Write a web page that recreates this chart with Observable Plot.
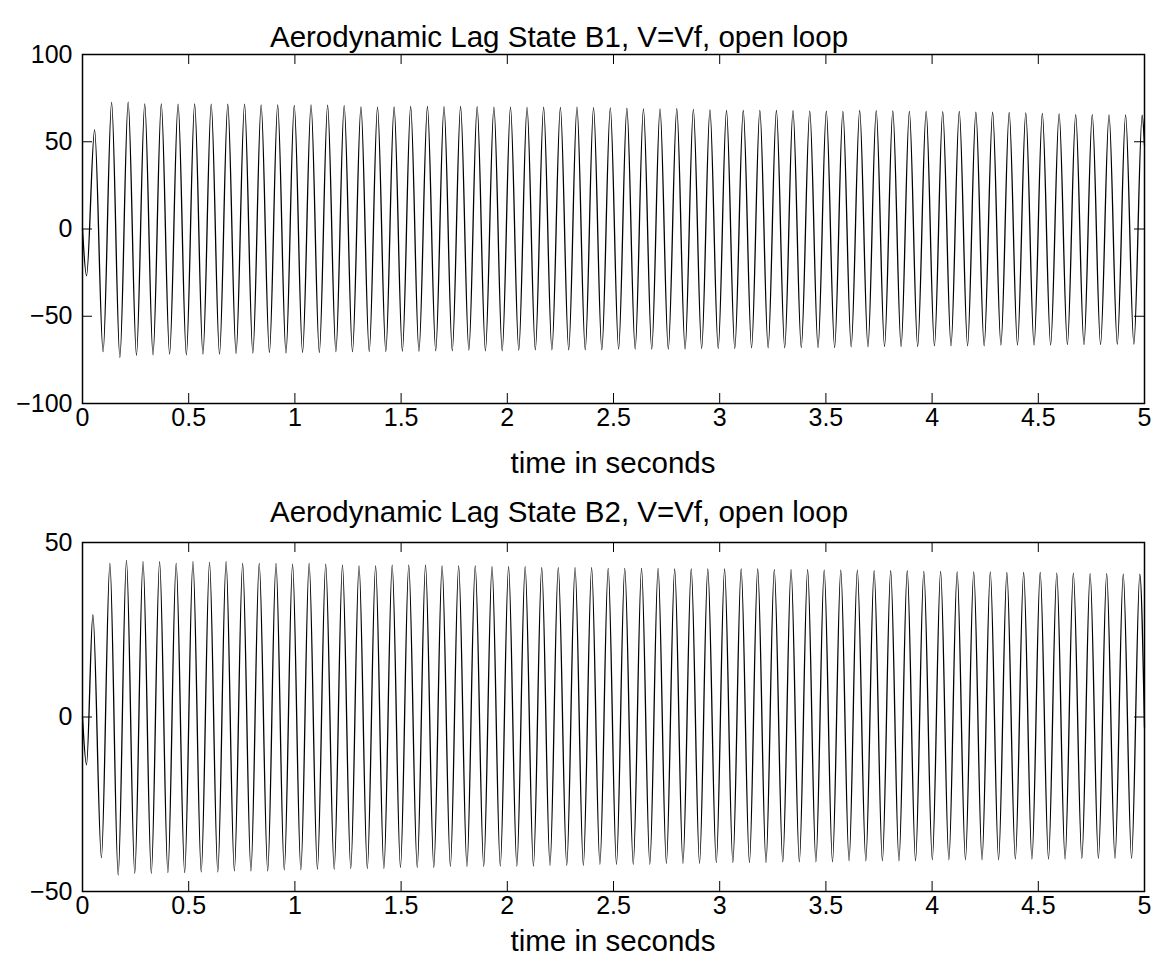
<!DOCTYPE html>
<html>
<head>
<meta charset="utf-8">
<script src="https://cdn.jsdelivr.net/npm/d3@7"></script>
<script src="https://cdn.jsdelivr.net/npm/@observablehq/plot@0.6"></script>
<style>
  html, body { margin: 0; padding: 0; background: white; }
  #wrap { position: relative; width: 1157px; height: 964px; background: white; overflow: hidden; }
  .plot { position: absolute; left: 0; }
  .lbl { position: absolute; transform: translate(-50%, -50%); white-space: nowrap;
         font-family: "Liberation Sans", Arial, Helvetica, sans-serif; font-size: 29.5px; line-height: 1; color: black; }
</style>
</head>
<body>
<div id="wrap"></div>
<script>
// ---------- tick labels ----------
const xTicks = [0, 0.5, 1, 1.5, 2, 2.5, 3, 3.5, 4, 4.5, 5];
const b1YTicks = [-100, -50, 0, 50, 100];
const b2YTicks = [-50, 0, 50];

// ---------- texts ----------
const b1Title = "Aerodynamic Lag State B1, V=Vf, open loop";
const b2Title = "Aerodynamic Lag State B2, V=Vf, open loop";
const xLabel = "time in seconds";

// ---------- B1 series (extrema) ----------
const b1StartT = [0, 0.019, 0.057];
const b1StartV = [0, -26.8, 56.8];
const b1PeakT = [0.137, 0.215, 0.293, 0.371, 0.450, 0.528, 0.606, 0.684, 0.763, 0.841,
  0.919, 0.997, 1.076, 1.154, 1.232, 1.311, 1.389, 1.467, 1.545, 1.624,
  1.702, 1.780, 1.858, 1.937, 2.015, 2.093, 2.171, 2.250, 2.328, 2.406,
  2.485, 2.563, 2.641, 2.719, 2.798, 2.876, 2.954, 3.032, 3.111, 3.189,
  3.267, 3.345, 3.424, 3.502, 3.580, 3.659, 3.737, 3.815, 3.893, 3.972,
  4.050, 4.128, 4.206, 4.285, 4.363, 4.441, 4.519, 4.598, 4.676, 4.754,
  4.833, 4.911, 4.989];
const b1PeakV = [72.6, 72.7, 71.7, 71.7, 71.6, 71.7, 71.6, 71.5, 71.6, 71.1,
  71.1, 70.8, 71.1, 71.0, 70.7, 69.9, 69.8, 69.9, 70.2, 70.2,
  70.1, 70.2, 70.1, 69.8, 69.8, 69.7, 69.8, 69.7, 69.8, 69.6,
  69.4, 69.2, 68.8, 68.8, 68.9, 68.5, 68.3, 67.9, 67.9, 68.0,
  67.9, 67.8, 67.5, 67.5, 67.4, 67.9, 67.8, 67.7, 67.4, 67.4,
  67.3, 67.4, 66.9, 66.9, 66.8, 66.5, 66.3, 66.0, 65.6, 65.6,
  65.4, 65.4, 65.3];
const b1TroughT = [0.097, 0.176, 0.254, 0.332, 0.410, 0.489, 0.567, 0.645, 0.723, 0.802,
  0.880, 0.958, 1.036, 1.115, 1.193, 1.271, 1.350, 1.428, 1.506, 1.584,
  1.663, 1.741, 1.819, 1.897, 1.976, 2.054, 2.132, 2.210, 2.289, 2.367,
  2.445, 2.524, 2.602, 2.680, 2.758, 2.837, 2.915, 2.993, 3.071, 3.150,
  3.228, 3.306, 3.384, 3.463, 3.541, 3.619, 3.698, 3.776, 3.854, 3.932,
  4.011, 4.089, 4.167, 4.245, 4.324, 4.402, 4.480, 4.558, 4.637, 4.715,
  4.793, 4.872, 4.950];
const b1TroughV = [-70.3, -73.6, -72.3, -72.1, -71.7, -72.1, -71.7, -71.7, -71.3, -71.1,
  -70.7, -71.1, -70.7, -70.7, -70.3, -70.3, -70.2, -70.2, -70.0, -70.0,
  -69.8, -69.8, -69.4, -69.8, -69.8, -69.4, -69.2, -69.2, -69.2, -69.2,
  -69.2, -68.8, -68.8, -68.8, -68.8, -68.8, -68.4, -68.4, -68.4, -68.1,
  -68.1, -68.1, -67.9, -67.9, -67.9, -67.5, -67.5, -67.3, -67.3, -67.3,
  -66.9, -66.9, -66.9, -66.9, -66.5, -66.5, -66.5, -66.5, -66.2, -66.2,
  -66.2, -66.0, -66.0];
const b1EndT = [5];
const b1EndV = [48];

// ---------- B2 series (extrema) ----------
const b2StartT = [0, 0.019, 0.049];
const b2StartV = [0, -13.7, 29.3];
const b2PeakT = [0.129, 0.207, 0.285, 0.363, 0.441, 0.520, 0.598, 0.676, 0.754, 0.832,
  0.911, 0.989, 1.067, 1.145, 1.224, 1.302, 1.380, 1.458, 1.536, 1.615,
  1.693, 1.771, 1.849, 1.928, 2.006, 2.084, 2.162, 2.240, 2.319, 2.397,
  2.475, 2.553, 2.632, 2.710, 2.788, 2.866, 2.944, 3.023, 3.101, 3.179,
  3.257, 3.336, 3.414, 3.492, 3.570, 3.648, 3.727, 3.805, 3.883, 3.961,
  4.040, 4.118, 4.196, 4.274, 4.352, 4.431, 4.509, 4.587, 4.665, 4.744,
  4.822, 4.900, 4.978];
const b2PeakV = [44.0, 44.9, 44.5, 44.5, 44.0, 44.5, 44.3, 44.5, 44.0, 44.0,
  44.0, 43.8, 44.0, 43.8, 43.5, 43.3, 43.3, 43.5, 43.5, 43.5,
  43.3, 43.3, 43.3, 43.1, 43.1, 43.1, 42.8, 42.8, 42.8, 42.8,
  42.6, 42.6, 42.6, 42.6, 42.4, 42.4, 42.4, 42.4, 42.4, 42.4,
  42.2, 42.2, 42.2, 42.1, 42.1, 42.1, 41.9, 41.9, 41.9, 41.7,
  41.7, 41.6, 41.6, 41.6, 41.4, 41.4, 41.4, 41.2, 41.2, 41.1,
  41.1, 40.9, 40.9];
const b2TroughT = [0.089, 0.168, 0.246, 0.324, 0.402, 0.481, 0.559, 0.637, 0.715, 0.793,
  0.872, 0.950, 1.028, 1.106, 1.185, 1.263, 1.341, 1.419, 1.497, 1.576,
  1.654, 1.732, 1.810, 1.889, 1.967, 2.045, 2.123, 2.201, 2.280, 2.358,
  2.436, 2.514, 2.593, 2.671, 2.749, 2.827, 2.905, 2.984, 3.062, 3.140,
  3.218, 3.297, 3.375, 3.453, 3.531, 3.609, 3.688, 3.766, 3.844, 3.922,
  4.001, 4.079, 4.157, 4.235, 4.313, 4.392, 4.470, 4.548, 4.626, 4.705,
  4.783, 4.861, 4.939];
const b2TroughV = [-40.3, -45.3, -44.8, -44.8, -44.6, -44.6, -44.4, -44.4, -44.1, -44.1,
  -44.1, -43.8, -43.8, -43.6, -43.6, -43.4, -43.4, -43.4, -43.1, -43.1,
  -43.1, -42.8, -42.8, -42.8, -42.7, -42.7, -42.7, -42.5, -42.5, -42.5,
  -42.2, -42.2, -42.2, -42.2, -41.9, -41.9, -41.9, -41.7, -41.7, -41.7,
  -41.7, -41.5, -41.5, -41.5, -41.5, -41.2, -41.2, -41.2, -41.2, -41.2,
  -40.9, -40.9, -40.9, -40.9, -40.9, -40.7, -40.7, -40.7, -40.7, -40.5,
  -40.5, -40.5, -40.5];
const b2EndT = [5];
const b2EndV = [-3];

// ---------- build ----------
function zip(ts, vs) { return ts.map((t, i) => ({t, v: vs[i]})); }
function assemble(groups) {
  return groups.flatMap(([ts, vs]) => zip(ts, vs)).sort((a, b) => a.t - b.t);
}
const b1 = assemble([[b1StartT, b1StartV], [b1PeakT, b1PeakV], [b1TroughT, b1TroughV], [b1EndT, b1EndV]]);
const b2 = assemble([[b2StartT, b2StartV], [b2PeakT, b2PeakV], [b2TroughT, b2TroughV], [b2EndT, b2EndV]]);

const W = 1157, H = 482;
const font = "'Liberation Sans', Arial, Helvetica, sans-serif";

function panel(data, yDomain, yTicks, mTop, mBottom) {
  const innerW = W - 82 - 13;
  const innerH = H - mTop - mBottom;
  const tk = 10;
  return Plot.plot({
    width: W, height: H,
    marginLeft: 82, marginRight: 13, marginTop: mTop, marginBottom: mBottom,
    x: {domain: [0, 5]},
    y: {domain: yDomain},
    style: {fontFamily: font, fontSize: "25px", background: "white", color: "black", overflow: "visible"},
    marks: [
      Plot.line(data, {x: "t", y: "v", curve: "monotone-x", stroke: "black", strokeWidth: 1.3}),
      Plot.tickX(xTicks, {x: d => d, insetTop: innerH - tk, stroke: "black", strokeWidth: 1}),
      Plot.tickX(xTicks, {x: d => d, insetBottom: innerH - tk, stroke: "black", strokeWidth: 1}),
      Plot.tickY(yTicks, {y: d => d, insetRight: innerW - tk, stroke: "black", strokeWidth: 1}),
      Plot.tickY(yTicks, {y: d => d, insetLeft: innerW - tk, stroke: "black", strokeWidth: 1}),
      Plot.frame({stroke: "black", strokeWidth: 1.5}),
      Plot.axisX({ticks: xTicks, tickSize: 0, tickPadding: 5, label: null, fontSize: 25, tickFormat: d => String(d)}),
      Plot.axisY({ticks: yTicks, tickSize: 0, tickPadding: 10, label: null, fontSize: 25})
    ]
  });
}

const wrap = document.getElementById("wrap");
const p1 = panel(b1, [-100, 100], b1YTicks, 54, 79);
p1.classList.add("plot"); p1.style.top = "0px";
wrap.appendChild(p1);
const p2 = panel(b2, [-50, 50], b2YTicks, 60, 73);
p2.classList.add("plot"); p2.style.top = "482px";
wrap.appendChild(p2);

function label(text, x, y) {
  const d = document.createElement("div");
  d.className = "lbl"; d.textContent = text;
  d.style.left = x + "px"; d.style.top = y + "px";
  wrap.appendChild(d);
}
label(b1Title, 559, 37);
label(xLabel, 613, 463);
label(b2Title, 559, 512);
label(xLabel, 613, 941);
</script>
</body>
</html>
